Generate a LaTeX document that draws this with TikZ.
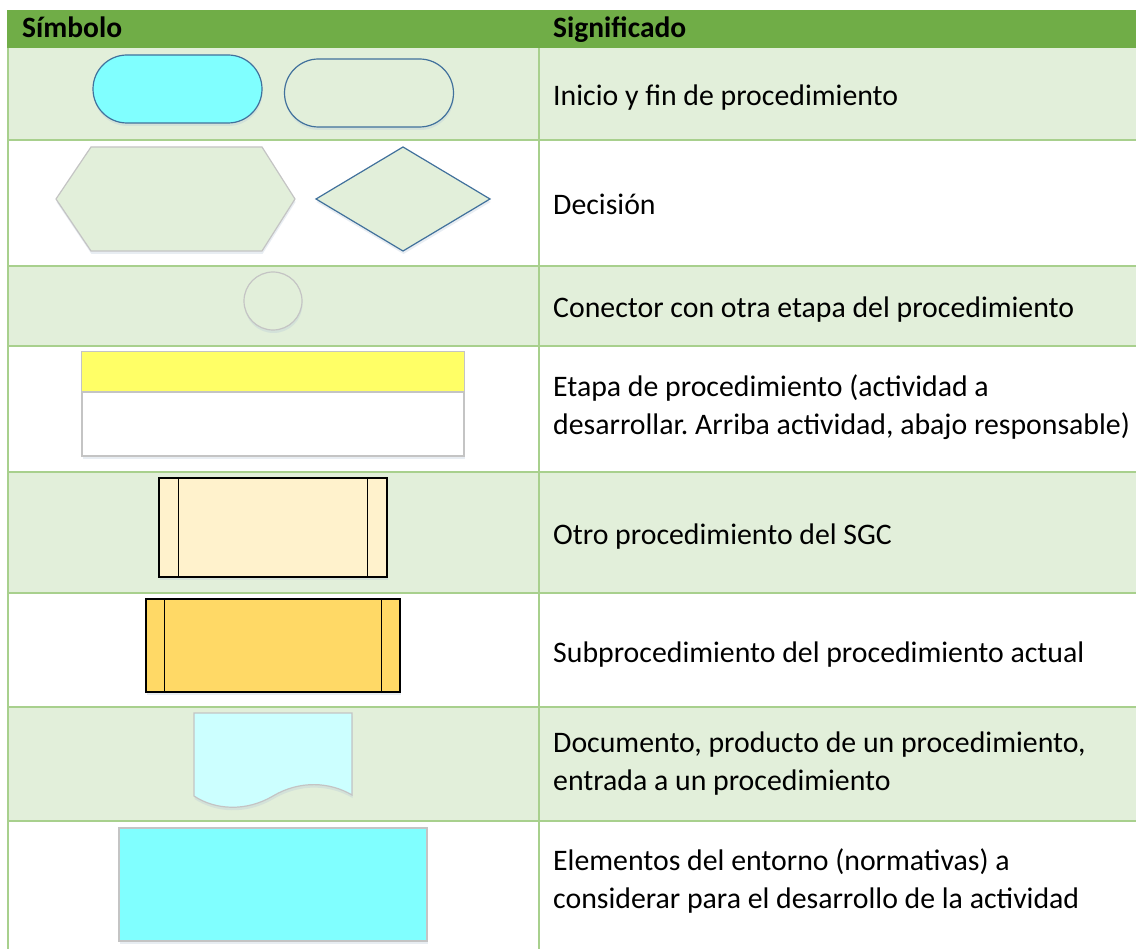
\documentclass[tikz,border=0pt]{standalone}
\usepackage{fontspec}
\setmainfont{Carlito}
\usetikzlibrary{shadows}
\frenchspacing

\definecolor{hdrgreen}{HTML}{70AD47}
\definecolor{rowgreen}{HTML}{E2EFDA}
\definecolor{gridgreen}{HTML}{A8D08D}
\definecolor{edgeblue}{HTML}{41719C}
\definecolor{edgegrey}{HTML}{C4C4C4}
\definecolor{termcyan}{HTML}{80FFFF}
\definecolor{doccyan}{HTML}{CCFFFF}
\definecolor{stepyellow}{HTML}{FFFF66}
\definecolor{otherproc}{HTML}{FFF2CC}
\definecolor{subproc}{HTML}{FFD966}

\begin{document}
\begin{tikzpicture}[x=1pt, y=-1pt,
  gridline/.style={gridgreen, line width=2pt},
  softshade/.style={drop shadow={shadow xshift=0.5pt, shadow yshift=-3pt, opacity=0.3, fill=edgeblue!40}},
  terminal/.style={draw=edgeblue, line width=1.2pt, rounded corners=34pt, minimum width=169pt, minimum height=68pt, inner sep=0pt, softshade},
  procbox/.style={draw=black, line width=1.3pt, inner sep=0pt, softshade},
  greybox/.style={draw=edgegrey, line width=1.2pt, inner sep=0pt, softshade},
  hdr/.style={anchor=base west, inner sep=0pt, font=\fontsize{29.5pt}{38pt}\selectfont\bfseries},
  sig/.style={anchor=base west, inner sep=0pt, font=\fontsize{29.8pt}{38pt}\selectfont}]

\useasboundingbox (0,0) rectangle (1136,949);
\fill[white] (0,0) rectangle (1136,949);

\foreach \top/\bot in {48/140, 266/346, 472/593, 707/821}
  \fill[rowgreen] (8,\top) rectangle (1136,\bot);
\fill[hdrgreen] (7,10) rectangle (1136,48);

\foreach \y in {140, 266, 346, 472, 593, 707, 821}
  \draw[gridline] (8,\y) -- (1136,\y);
\draw[gridline] (8,48) -- (8,949);
\draw[gridline] (539,48) -- (539,949);

\node[hdr] (simbolo) at (22,38) {Símbolo};
\node[hdr] (significado) at (553,38) {Significado};

\node[terminal, fill=termcyan] (inicio) at (177.5,89) {};
\node[terminal, fill=rowgreen] (fin) at (369,93) {};

\draw[draw=edgegrey, fill=rowgreen, line width=1.2pt, softshade]
  (56,199) -- (91,147) -- (262,147) -- (295,199) -- (262,251) -- (91,251) -- cycle;
\draw[draw=edgeblue, fill=rowgreen, line width=1.2pt, softshade]
  (316,199) -- (403,147) -- (490,199) -- (403,251) -- cycle;

\node[greybox, circle, fill=rowgreen, minimum size=58pt] (conector) at (273,301) {};

\node[greybox, fill=white, minimum width=382pt, minimum height=104pt] (etapa) at (273,404) {};
\fill[stepyellow] ([shift={(0.6pt,-0.6pt)}]etapa.north west) rectangle ([shift={(-0.6pt,0pt)}]etapa.east |- 0,392);
\draw[edgegrey, line width=1.2pt] (etapa.west |- 0,392) -- (etapa.east |- 0,392);

\node[procbox, fill=otherproc, minimum width=228pt, minimum height=99pt] (otro) at (273,527.5) {};
\draw[line width=1.3pt] ([xshift=20pt]otro.north west) -- ([xshift=20pt]otro.south west);
\draw[line width=1.3pt] ([xshift=-20pt]otro.north east) -- ([xshift=-20pt]otro.south east);

\node[procbox, fill=subproc, minimum width=254pt, minimum height=93pt] (sub) at (273,645.5) {};
\draw[line width=1.3pt] ([xshift=19pt]sub.north west) -- ([xshift=19pt]sub.south west);
\draw[line width=1.3pt] ([xshift=-19pt]sub.north east) -- ([xshift=-19pt]sub.south east);

\draw[draw=edgegrey, fill=doccyan, line width=1.2pt, softshade]
  (194,713) -- (352,713) -- (352,795)
  .. controls (330,782) and (300,780) .. (273,796)
  .. controls (246,812) and (215,810) .. (194,796) -- cycle;

\node[greybox, fill=termcyan, minimum width=308pt, minimum height=113pt] (entorno) at (273,884.5) {};

\node[sig] (inicio text) at (553,106) {Inicio y fin de procedimiento};
\node[sig] (decision text) at (553,215) {Decisión};
\node[sig] (conector text) at (553,318) {Conector con otra etapa del procedimiento};
\node[sig] (etapa text a) at (553,397) {Etapa de procedimiento (actividad a};
\node[sig] (etapa text b) at (553,435) {desarrollar. Arriba actividad, abajo responsable)};
\node[sig] (otro text) at (553,544) {Otro procedimiento del SGC};
\node[sig] (sub text) at (553,662) {Subprocedimiento del procedimiento actual};
\node[sig] (doc text a) at (553,752) {Documento, producto de un procedimiento,};
\node[sig] (doc text b) at (553,790) {entrada a un procedimiento};
\node[sig] (entorno text a) at (553,870) {Elementos del entorno (normativas) a};
\node[sig] (entorno text b) at (553,908) {considerar para el desarrollo de la actividad};

\end{tikzpicture}
\end{document}
